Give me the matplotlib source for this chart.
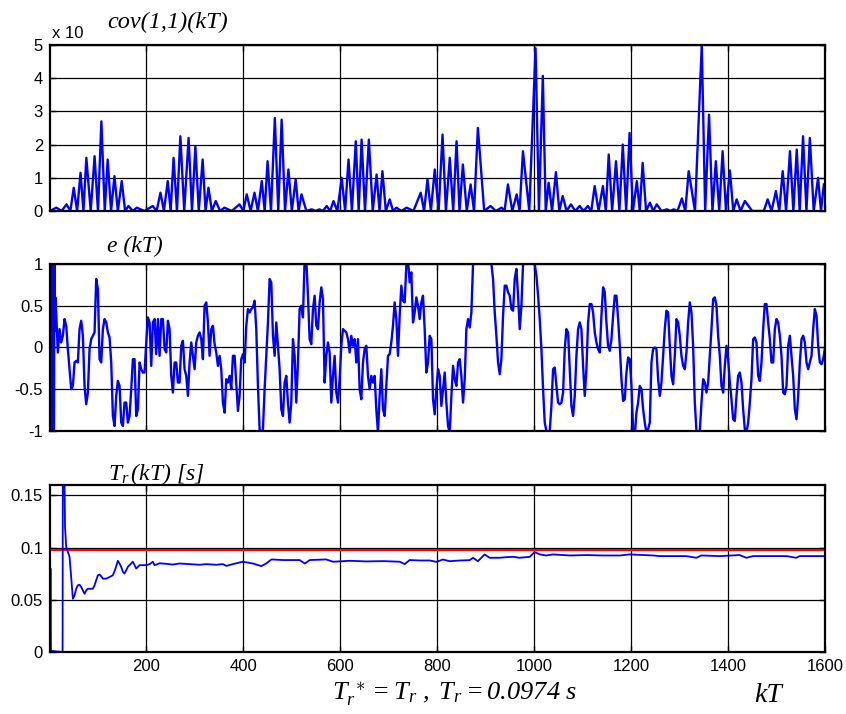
import matplotlib
matplotlib.use('Agg')

import matplotlib.pyplot as plt
from matplotlib.ticker import FixedLocator, FixedFormatter
import numpy as np

plt.rcParams['font.family'] = ['Liberation Sans', 'DejaVu Sans']
plt.rcParams['axes.unicode_minus'] = False
plt.rcParams['mathtext.fontset'] = 'custom'
plt.rcParams['mathtext.rm'] = 'Liberation Serif:italic'
plt.rcParams['mathtext.it'] = 'Liberation Serif:italic'
plt.rcParams['mathtext.bf'] = 'Liberation Serif:bold'

# ---- cov(1,1)(kT): spike tops and the zero baseline between them ----
cov_peak_k = [14, 35, 50, 64, 76, 93, 107, 120, 134, 149, 163, 180, 213, 229,
              244, 256, 270, 287, 301, 316, 328, 343, 361, 392, 407, 423, 438,
              450, 465, 479, 493, 508, 520, 541, 557, 572, 586, 603, 617, 632,
              644, 659, 675, 687, 702, 716, 737, 766, 780, 795, 811, 826, 840,
              853, 869, 884, 910, 933, 946, 964, 977, 1003, 1018, 1030, 1045,
              1059, 1076, 1094, 1111, 1125, 1142, 1154, 1169, 1183, 1197, 1212,
              1224, 1239, 1253, 1274, 1288, 1305, 1319, 1346, 1361, 1375, 1389,
              1404, 1418, 1435, 1466, 1482, 1499, 1513, 1528, 1542, 1555, 1569,
              1586, 1598]
cov_peak_v = [0.1, 0.2, 0.7, 1.15, 1.6, 1.65, 2.7, 1.55, 1.05, 0.9, 0.15, 0.1,
              0.15, 0.55, 0.9, 1.6, 2.25, 2.2, 1.95, 1.55, 0.7, 0.3, 0.1, 0.2,
              0.5, 0.55, 0.9, 1.5, 2.8, 2.75, 1.25, 0.95, 0.5, 0.05, 0.05, 0.15,
              0.3, 1.0, 1.55, 2.1, 2.15, 2.15, 1.1, 1.2, 0.35, 0.1, 0.1, 0.55,
              0.95, 1.25, 2.3, 1.6, 2.1, 1.4, 0.8, 2.5, 0.15, 0.1, 0.8, 0.5,
              1.8, 4.9, 4.07, 0.85, 1.17, 0.45, 0.2, 0.15, 0.15, 0.75, 0.75,
              1.7, 1.5, 2.0, 2.35, 0.9, 1.45, 0.25, 0.2, 0.05, 0.05, 0.38, 1.2,
              5.0, 2.9, 1.5, 1.8, 1.22, 0.35, 0.3, 0.0, 0.35, 0.6, 1.2, 1.8,
              1.85, 2.25, 2.2, 1.0, 0.8]
cov_base_k = [1, 25, 43, 57, 70, 85, 100, 114, 127, 141, 156, 172, 196, 221,
              236, 250, 263, 278, 294, 308, 322, 335, 352, 376, 400, 415, 430,
              444, 457, 472, 486, 500, 514, 530, 549, 564, 579, 594, 610, 624,
              638, 651, 667, 681, 694, 709, 726, 751, 773, 787, 803, 818, 833,
              846, 861, 876, 897, 921, 939, 955, 970, 990, 1010, 1024, 1037,
              1052, 1067, 1085, 1102, 1118, 1133, 1148, 1161, 1176, 1190, 1204,
              1218, 1231, 1246, 1263, 1281, 1296, 1312, 1332, 1353, 1368, 1382,
              1396, 1411, 1426, 1450, 1474, 1490, 1506, 1520, 1535, 1548, 1562,
              1577, 1592]

# ---- e(kT) ----
e_start_k = [1, 2, 3, 4, 5, 6, 7, 8, 9, 10, 11, 12]
e_start = [0.0, 1.5, -1.5, 1.5, -1.5, 1.5, -1.5, 0.1, -1.2, 1.2, 0.2, 0.6]
e_a = [0.40, -0.06, 0.22, 0.06, 0.14, 0.34, 0.26, -0.02, -0.26, -0.50,
       -0.46, -0.18, -0.16, -0.18, 0.22, 0.32, 0.14, -0.46, -0.68, -0.54,
       -0.02, 0.10, 0.14, 0.18, 0.82, 0.70, -0.14, -0.18, 0.22, 0.34,
       0.30, 0.18, 0.12, -0.18, -0.82, -0.94, -0.58, -0.40, -0.46, -0.90,
       -0.94, -0.66, -0.66, -0.90, -0.82, -0.50, -0.14, -0.14, -0.82, -0.74,
       -0.18, -0.26, -0.30, -0.30, 0.06, 0.36, 0.30, -0.22, 0.30, 0.34,
       -0.08, 0.34, -0.10, 0.34, 0.34, -0.02, -0.06, 0.32, 0.22, -0.34,
       -0.54, -0.18, -0.18, -0.42, -0.42, 0.02, 0.08, -0.26, -0.34, -0.58,
       -0.18, 0.06, -0.10, -0.26, 0.06, 0.14, 0.18, 0.10, -0.14, 0.50,
       0.54, 0.30, -0.10, 0.22, 0.26, 0.04, -0.06, -0.22, -0.10, -0.26,
       -0.66, -0.78, -0.38, -0.42, -0.34, -0.50, -0.10, -0.10, -0.42, -0.76,
       -0.58, -0.14, -0.08, -0.18, 0.26, 0.46, 0.42, 0.46, 0.48, 0.56,
       0.22, -0.46, -0.98, -1.02, -0.98, -0.50, -0.10, 0.30, 0.82, 0.78,
       0.14, -0.10, 0.30, 0.02, -0.26, -0.74, -0.82, -0.42, -0.34, -0.66,
       -0.90, -0.66, 0.10, -0.10, -0.66, -0.18, 0.46, 0.50, 0.36, 1.05,
       1.05, 0.62, 0.10, 0.04, 0.46, 0.62, 0.26, 0.22, 0.54, 0.72,
       0.58, -0.42, -0.10, 0.06, -0.06, -0.66, -0.34, -0.10, -0.54, -0.66,
       -0.38, 0.02, 0.22, 0.20, 0.18, 0.10, -0.06, 0.14, 0.02, 0.10,
       -0.18, 0.10, -0.50, -0.62, -0.18, -0.02, 0.02, -0.34, -0.50, -0.34,
       -0.42, -0.34, -0.74, -1.02, -0.58, -0.26, -0.74, -0.82, -0.46, -0.10,
       -0.08, 0.06, 0.26, 0.54, 0.34, -0.10, 0.38, 0.74, 0.56, 0.54,
       0.98, 1.05, 0.78, 0.90, 0.30, 0.42, 0.60, 0.50, 0.34, 0.54,
       0.62, 0.22, -0.30, -0.18, 0.14]
e_b = [0.10, -0.62, -0.80, -0.50, -0.26, -0.34, -0.70, -0.50, -0.30, -0.66,
       -0.94, -1.02, -0.58, -0.22, -0.38, -0.46, -0.18, -0.14, -0.34, -0.66,
       -0.38, 0.22, 0.34, 0.24, 0.42, 1.00, 1.30, 1.50, 1.50, 1.50,
       1.50, 1.50, 1.50, 1.50, 1.30, 1.10, 1.00, 0.82, 0.42, 0.14,
       -0.18, -0.32, -0.14, 0.38, 0.74, 0.74, 0.66, 0.62, 0.46, 0.44,
       0.82, 0.94, 0.62, 0.22, 0.50, 1.00, 1.20, 1.40, 1.50, 1.40,
       1.20, 1.05, 1.00, 0.86, 0.62, 0.34, -0.02, -0.50, -0.90, -1.00,
       -1.14, -1.00, -0.70, -0.26, -0.24, -0.46, -0.66, -0.68, -0.66, -0.54,
       -0.02, 0.22, 0.18, -0.26, -0.70, -0.82, -0.58, -0.10, 0.22, 0.30,
       0.22, -0.22, -0.58, -0.26, 0.30, 0.52, 0.52, 0.42, 0.18, 0.06,
       -0.02, -0.06, 0.38, 0.72, 0.66, 0.30, 0.02, -0.04, 0.10, 0.38,
       0.62, 0.62, 0.34, 0.02, -0.38, -0.64, -0.62, -0.30, -0.12, -0.14,
       -0.46, -0.98, -1.05, -0.78, -0.66, -0.46, -0.50, -0.74, -0.90, -1.02,
       -0.98, -0.90, -0.18, -0.02, 0.00, -0.02, -0.38, -0.58, -0.42, -0.10,
       0.22, 0.44, 0.42, 0.02, -0.34, -0.44, -0.10, 0.34, 0.30, 0.14,
       -0.10, -0.22, -0.26, -0.06, 0.30, 0.54, 0.42, 0.02, -0.66, -1.00,
       -1.10, -1.00, -0.66, -0.38, -0.42, -0.54, -0.42, -0.10, 0.22, 0.58,
       0.60, 0.50, 0.14, -0.10, -0.46, -0.54, -0.22, 0.02, -0.14, -0.42,
       -0.62, -0.86, -0.88, -0.58, -0.34, -0.30, -0.42, -0.74, -0.98, -1.02,
       -0.90, -0.66, -0.38, 0.10, 0.12, 0.06, -0.34, -0.40, -0.18, 0.22,
       0.52, 0.52, 0.30, 0.10, -0.18, -0.18, 0.22, 0.34, 0.30, 0.14,
       -0.10, -0.54, -0.56, -0.46, 0.02, 0.14, -0.10, -0.34, -0.74, -0.86,
       -0.58, -0.18, 0.10, 0.14, 0.06, -0.18, -0.26, -0.18, -0.10, 0.22,
       0.46, 0.38, 0.02, -0.18, -0.20, -0.14, -0.02]

# ---- T_r(kT) [s] ----
tr_k = [1, 2, 3, 6, 27, 28, 29, 32, 34.4, 37.8, 41.3, 44.7, 48.2, 51.6, 55.1,
        58.5, 61.9, 65.4, 68.8, 72.3, 75.7, 79.2, 82.6, 89.4, 92.9, 96.3,
        99.8, 103.2, 106.7, 110.1, 117, 123.9, 130.7, 136.2, 141, 144.5,
        147.9, 151.4, 154.8, 158.3, 161.7, 165.1, 168.6, 172, 175.5, 178.9,
        182.4, 185.8, 192.7, 199.6, 206.5, 213.3, 216.8, 227, 241, 254, 268,
        289, 310, 323, 344, 358, 365, 378, 399, 420, 437, 447, 458, 482, 516,
        527, 537, 571, 585, 620, 654, 689, 723, 733, 743, 764, 785, 798, 812,
        826, 847, 867, 874, 884, 891, 898, 908, 929, 943, 957, 970, 991, 1001,
        1012, 1025, 1039, 1074, 1108, 1142, 1177, 1197, 1246, 1259, 1314, 1335,
        1345, 1383, 1424, 1438, 1452, 1521, 1541, 1548, 1600]
tr_v = [0.0, 0.080, 0.0, 0.001, 0.0, 0.40, 0.25, 0.12, 0.101, 0.0961, 0.0913,
        0.0719, 0.0510, 0.0542, 0.0606, 0.0639, 0.0645, 0.0623, 0.0590,
        0.0558, 0.0590, 0.0606, 0.0606, 0.0606, 0.0639, 0.0687, 0.0735,
        0.0742, 0.0726, 0.0703, 0.0703, 0.0719, 0.0735, 0.0800, 0.0874,
        0.0848, 0.0816, 0.0768, 0.0752, 0.0784, 0.0816, 0.0832, 0.0848,
        0.0865, 0.0832, 0.0800, 0.0816, 0.0832, 0.0832, 0.0832, 0.0842,
        0.0865, 0.0832, 0.0850, 0.0845, 0.0838, 0.0848, 0.0842, 0.0836,
        0.0842, 0.0836, 0.0842, 0.0825, 0.0842, 0.0865, 0.0848, 0.0823,
        0.0848, 0.0887, 0.0881, 0.0881, 0.0848, 0.0881, 0.0887, 0.0865,
        0.0874, 0.0868, 0.0871, 0.0865, 0.0842, 0.0881, 0.0877, 0.0877,
        0.0864, 0.0886, 0.0870, 0.0877, 0.0880, 0.0903, 0.0870, 0.0903,
        0.0935, 0.0903, 0.0903, 0.0909, 0.0912, 0.0903, 0.0912, 0.0958,
        0.0935, 0.0925, 0.0935, 0.0925, 0.0929, 0.0925, 0.0925, 0.0935,
        0.0925, 0.0919, 0.0919, 0.0903, 0.0925, 0.0919, 0.0929, 0.0903,
        0.0919, 0.0919, 0.0903, 0.0919, 0.0919]
tr_true = 0.0974

x_ticks = [200, 400, 600, 800, 1000, 1200, 1400, 1600]

# assemble series
cov_k = np.concatenate([cov_peak_k, cov_base_k])
cov_v = np.concatenate([cov_peak_v, np.zeros(len(cov_base_k))])
order = np.argsort(cov_k)
cov_k, cov_v = cov_k[order], cov_v[order]

e_k = np.concatenate([e_start_k,
                      np.linspace(13.8, 784.5, len(e_a)),
                      np.linspace(788.0, 1600, len(e_b))])
e_v = np.concatenate([e_start, e_a, e_b])

fig = plt.figure(figsize=(8.46, 7.14), dpi=100)
ax1 = fig.add_axes([0.0591, 0.7045, 0.9159, 0.2325])
ax2 = fig.add_axes([0.0591, 0.3964, 0.9159, 0.2339])
ax3 = fig.add_axes([0.0591, 0.0868, 0.9159, 0.2339])


def style(ax, yticks, ylabels, xlabels):
    ax.set_xlim(1, 1600)
    ax.xaxis.set_major_locator(FixedLocator(x_ticks))
    if xlabels:
        ax.set_xticklabels([str(t) for t in x_ticks])
    else:
        ax.set_xticklabels([])
    ax.yaxis.set_major_locator(FixedLocator(yticks))
    ax.yaxis.set_major_formatter(FixedFormatter(ylabels))
    ax.tick_params(axis='both', direction='in', length=4, width=1,
                   top=True, right=True, labelsize=12, pad=5)
    ax.grid(True, color='k', lw=0.9)
    for sp in ax.spines.values():
        sp.set_linewidth(1.6)


ax1.plot(cov_k, cov_v, color='#0000ff', lw=1.7)
ax1.set_ylim(0, 5)
style(ax1, [0, 1, 2, 3, 4, 5], ['0', '1', '2', '3', '4', '5'], False)
ax1.text(0.003, 1.07, 'x 10', transform=ax1.transAxes, fontsize=12,
         va='center', ha='left')

ax2.plot(e_k, e_v, color='#0000ff', lw=1.7)
ax2.set_ylim(-1, 1)
style(ax2, [-1, -0.5, 0, 0.5, 1], ['-1', '-0.5', '0', '0.5', '1'], False)

ax3.axhline(tr_true, color='#ff0000', lw=1.5)
ax3.plot(tr_k, tr_v, color='#0000ff', lw=1.3)
ax3.set_ylim(0, 0.16)
style(ax3, [0, 0.05, 0.1, 0.15], ['0', '0.05', '0.1', '0.15'], True)

fig.text(0.1265, 0.961, 'cov(1,1)(kT)', fontsize=17.5, family='Liberation Serif',
         style='italic', va='baseline')
fig.text(0.1265, 0.647, 'e (kT)', fontsize=17, family='Liberation Serif',
         style='italic', va='baseline')
fig.text(0.1277, 0.328, r'$T_r\,(kT)\ [s]$', fontsize=17, va='baseline')
fig.text(0.392, 0.021, r'$T_r^{\ \ast} = T_r\ ,\ T_r = 0.0974\ s$',
         fontsize=19, va='baseline')
fig.text(0.892, 0.017, 'kT', fontsize=20, family='Liberation Serif',
         style='italic', va='baseline')

plt.savefig('out.png', dpi=100)
plt.close(fig)
